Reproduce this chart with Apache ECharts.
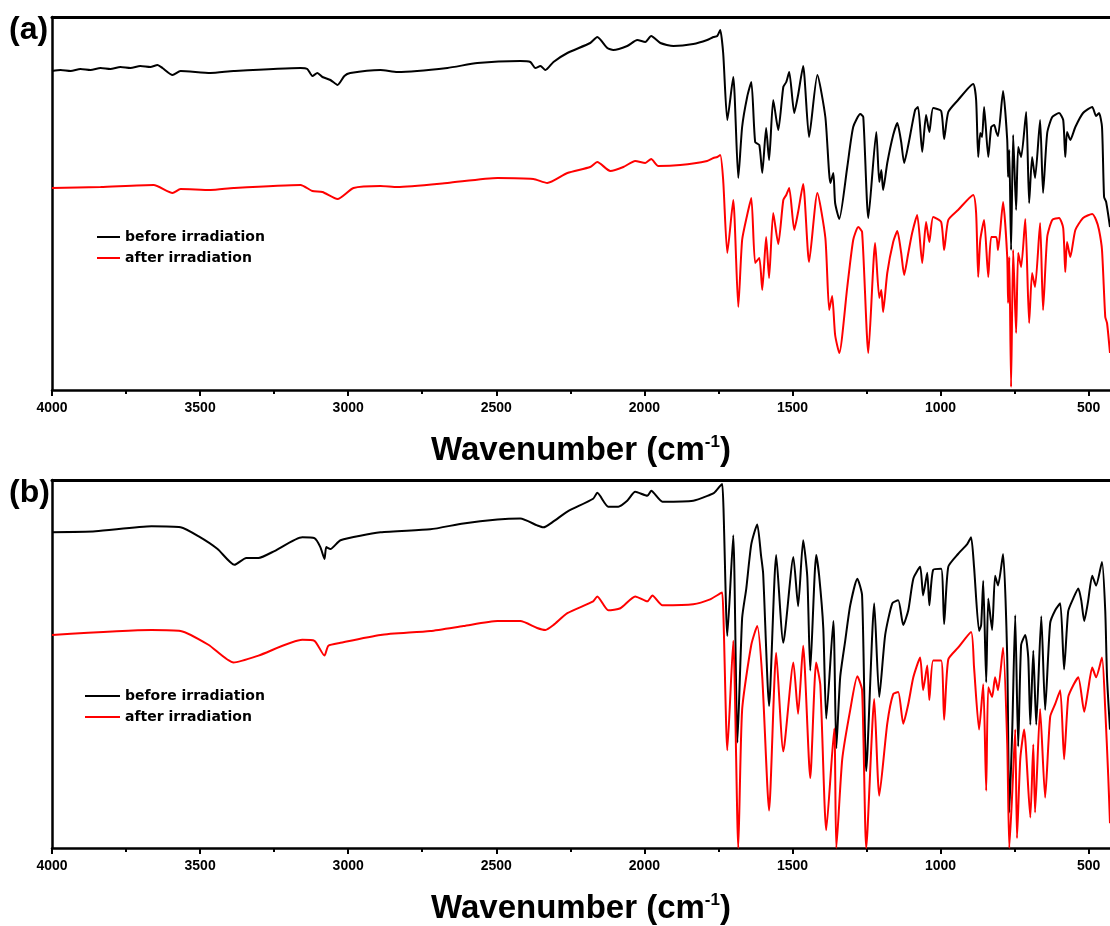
<!DOCTYPE html>
<html>
<head>
<meta charset="utf-8">
<script src="https://cdn.jsdelivr.net/npm/echarts@6/dist/echarts.min.js"></script>
<style>
html,body{margin:0;padding:0;background:#fff;overflow:hidden;}
#chart{width:1110px;height:926px;}
</style>
</head>
<body>
<div id="chart"></div>
<script>
// Wavenumber (cm-1), transmittance (arbitrary units, 0-373)
const tickLabels = [4000, 3500, 3000, 2500, 2000, 1500, 1000, 500];
const minorTicks = [3750, 3250, 2750, 2250, 1750, 1250, 750];
const seriesNames = ['before irradiation', 'after irradiation'];

const beforeA = [[4000,319],[3971,320],[3937,319],[3904,321],[3870,320],[3836,322],[3803,321],[3769,323],[3735,322],[3702,324],[3668,323],[3644,325],[3627,322],[3593,315],[3566,319],[3465,317],[3387,319],[3161,322],[3138,321],[3121,314],[3104,317],[3087,313],[3060,310],[3036,305],[3013,314],[2993,317],[2891,320],[2834,318],[2665,322],[2564,327],[2419,329],[2385,328],[2368,322],[2351,324],[2334,320],[2307,328],[2260,337],[2183,347],[2159,353],[2125,342],[2105,340],[2058,344],[2024,350],[1997,348],[1977,354],[1946,347],[1902,344],[1835,346],[1788,350],[1767,353],[1754,354],[1744,360],
[1734,337],[1720,270],[1700,313],[1683,212],[1670,263],[1653,293],[1639,308],[1626,248],[1612,245],[1602,217],[1589,262],[1579,230],[1565,290],[1548,260],[1531,303],[1521,308],[1511,318],[1494,277],[1481,295],[1464,324],[1444,253],[1416,315],[1389,273],[1372,207],[1362,217],[1356,187],[1342,171],[1315,223],[1295,263],[1271,276],[1261,273],[1244,172],[1217,258],[1207,208],[1200,220],[1194,200],[1180,227],[1160,255],[1146,267],[1133,248],[1123,227],[1109,245],[1086,280],[1076,283],[1062,238],[1049,275],[1038,258],[1025,282],[998,279],[988,251],[974,278],[941,290],[890,306],[880,290],[873,233],[866,257],[860,253],[853,283],[839,233],[829,263],[819,265],[812,258],[806,254],[789,299],[775,250],[772,213],[768,240],[762,140],[755,255],[745,180],[738,243],[728,233],[711,278],[701,187],[691,233],[681,212],[664,270],[654,197],[640,257],[623,273],[600,277],[586,270],[579,233],[573,258],[562,250],[545,263],[519,277],[488,283],[475,274],[465,277],[455,263],[448,193],[441,188],[428,163]];

const afterA = [[4000,202],[3836,203],[3657,205],[3593,197],[3566,201],[3465,200],[3387,202],[3161,205],[3121,199],[3087,198],[3036,191],[2982,202],[2891,204],[2834,203],[2665,207],[2496,212],[2375,211],[2328,207],[2260,217],[2183,223],[2159,228],[2115,219],[2071,223],[2031,229],[1997,227],[1977,231],[1953,224],[1879,225],[1788,229],[1767,232],[1754,233],[1744,235],
[1734,210],[1720,137],[1700,190],[1683,83],[1670,150],[1653,175],[1639,192],[1626,127],[1612,132],[1602,100],[1589,153],[1579,112],[1565,177],[1548,146],[1531,190],[1521,195],[1511,202],[1494,160],[1481,178],[1464,206],[1444,128],[1416,197],[1389,152],[1376,80],[1366,94],[1356,55],[1342,37],[1315,103],[1295,150],[1278,163],[1265,158],[1244,37],[1221,147],[1207,92],[1200,100],[1194,78],[1180,117],[1160,148],[1146,159],[1133,137],[1123,115],[1109,137],[1096,157],[1079,175],[1062,127],[1049,168],[1038,148],[1025,173],[998,168],[988,140],[974,170],[941,180],[890,195],[880,177],[873,113],[866,150],[853,170],[839,113],[829,153],[812,153],[806,140],[789,188],[775,133],[772,87],[768,133],[762,3],[755,140],[745,57],[738,137],[728,123],[714,171],[701,67],[691,117],[681,103],[664,167],[654,80],[640,153],[623,170],[600,172],[586,162],[579,118],[573,148],[562,133],[545,160],[519,172],[488,176],[475,170],[465,160],[455,140],[444,73],[438,67],[428,37]];

const beforeB = [[4000,320],[3853,321],[3664,326],[3566,325],[3506,316],[3441,303],[3384,287],[3344,294],[3303,294],[3249,301],[3155,315],[3114,314],[3094,305],[3080,293],[3074,305],[3060,303],[3026,312],[2891,320],[2723,323],[2611,329],[2496,333],[2419,334],[2362,327],[2341,325],[2307,331],[2260,341],[2173,354],[2159,360],[2122,346],[2088,346],[2058,352],[2031,361],[1990,357],[1977,362],[1939,351],[1835,352],[1778,358],[1764,360],[1744,367],[1737,369],
[1720,215],[1700,317],[1686,107],[1670,233],[1656,263],[1639,308],[1619,328],[1606,296],[1599,278],[1579,144],[1555,297],[1531,208],[1497,295],[1481,245],[1464,312],[1450,275],[1440,180],[1420,297],[1410,276],[1396,223],[1386,131],[1362,230],[1352,101],[1339,173],[1322,210],[1305,246],[1281,273],[1265,256],[1251,78],[1224,248],[1207,153],[1187,216],[1163,248],[1143,251],[1126,226],[1109,241],[1092,273],[1069,285],[1059,256],[1045,279],[1038,246],[1025,282],[998,283],[988,227],[974,285],[941,298],[910,308],[897,315],[887,285],[870,220],[863,226],[856,271],[846,168],[839,253],[826,221],[816,276],[806,266],[789,298],[775,193],[768,36],[758,120],[748,236],[738,103],[728,206],[714,216],[704,193],[697,125],[687,200],[677,125],[660,235],[647,140],[630,228],[613,241],[596,248],[583,181],[569,240],[552,253],[535,263],[525,251],[515,230],[502,250],[488,276],[475,266],[455,290],[444,240],[438,173],[428,120]];

const afterB = [[4000,216],[3664,221],[3566,220],[3472,206],[3387,188],[3303,195],[3155,211],[3114,210],[3080,195],[3067,205],[3026,208],[2891,216],[2723,220],[2611,225],[2496,230],[2419,230],[2362,223],[2334,221],[2307,226],[2260,238],[2173,250],[2159,255],[2122,241],[2081,243],[2031,255],[1990,250],[1973,256],[1939,246],[1835,247],[1778,252],[1744,258],[1737,259],
[1720,99],[1700,210],[1683,0],[1670,140],[1639,206],[1619,225],[1602,173],[1579,38],[1555,198],[1531,98],[1497,188],[1481,136],[1464,205],[1440,71],[1420,188],[1406,165],[1386,18],[1359,121],[1352,0],[1332,90],[1305,140],[1281,174],[1265,160],[1251,0],[1224,151],[1207,53],[1180,126],[1160,156],[1143,158],[1126,126],[1109,146],[1092,173],[1069,193],[1059,160],[1045,185],[1038,150],[1025,190],[998,190],[988,130],[974,191],[941,203],[897,219],[887,183],[870,120],[856,166],[846,58],[839,163],[826,153],[816,173],[806,160],[789,203],[775,106],[768,0],[758,56],[748,120],[742,10],[731,90],[718,120],[697,31],[687,105],[681,36],[664,141],[647,51],[630,133],[613,146],[596,160],[583,90],[569,153],[552,165],[535,173],[515,138],[502,160],[488,183],[475,173],[455,193],[444,140],[434,73],[428,25]];

const FONT = 'Liberation Sans, Arial, sans-serif';
const LEGEND_FONT = 'DejaVu Sans, Liberation Sans, sans-serif';
const chart = echarts.init(document.getElementById('chart'), null, {renderer:'canvas'});

const gridTops = [17, 480];
const grids = gridTops.map(t => ({left:52, right:0, top:t, height:373, containLabel:false}));

function xAxesFor(gi){
  return [
    { // main bottom axis
      type:'value', gridIndex:gi, position:'bottom', inverse:true, min:428, max:4000,
      axisLine:{show:true, onZero:false, lineStyle:{color:'#000', width:2.5}},
      axisTick:{show:true, inside:false, length:6, lineStyle:{color:'#000', width:2}, customValues:tickLabels},
      axisLabel:{show:true, customValues:tickLabels, formatter:v => String(v), color:'#000', fontFamily:FONT, fontWeight:'bold', fontSize:14, margin:11},
      splitLine:{show:false},
      name:'{a|Wavenumber (cm}{s|-1}{a|)}', nameLocation:'middle', nameGap:44,
      nameTextStyle:{rich:{
        a:{fontFamily:FONT, fontWeight:'bold', fontSize:33, color:'#000'},
        s:{fontFamily:FONT, fontWeight:'bold', fontSize:17, color:'#000', verticalAlign:'top', padding:[0,0,14,0]}
      }}
    },
    { // minor ticks
      type:'value', gridIndex:gi, position:'bottom', inverse:true, min:428, max:4000,
      axisLine:{show:false},
      axisTick:{show:true, inside:false, length:4, lineStyle:{color:'#000', width:2}, customValues:minorTicks},
      axisLabel:{show:false}, splitLine:{show:false}
    },
    { // top frame
      type:'value', gridIndex:gi, position:'top', inverse:true, min:428, max:4000,
      axisLine:{show:true, onZero:false, lineStyle:{color:'#000', width:3}},
      axisTick:{show:false}, axisLabel:{show:false}, splitLine:{show:false}
    }
  ];
}

const xAxes = xAxesFor(0).concat(xAxesFor(1));
const yAxes = [0,1].map(gi => ({
  type:'value', gridIndex:gi, min:0, max:373,
  axisLine:{show:true, onZero:false, lineStyle:{color:'#000', width:2.5}},
  axisTick:{show:false}, axisLabel:{show:false}, splitLine:{show:false}
}));

function lineSeries(name, data, gi, color){
  return {
    name:name, type:'line', data:data, xAxisIndex:gi*3, yAxisIndex:gi,
    symbol:'none', smooth:0.2, animation:false,
    lineStyle:{color:color, width:2}, itemStyle:{color:color}
  };
}

const legendText = {fontFamily:LEGEND_FONT, fontWeight:'bold', fontSize:14, color:'#000'};
const option = {
  backgroundColor:'#fff',
  animation:false,
  grid:grids,
  xAxis:xAxes,
  yAxis:yAxes,
  legend:[
    {left:97, top:230, padding:0, orient:'vertical', icon:'rect', itemWidth:23, itemHeight:2, itemGap:7, itemTextGap:6,
     data:seriesNames, textStyle:legendText},
    {left:85, top:689, padding:0, orient:'vertical', icon:'rect', itemWidth:35, itemHeight:2, itemGap:7, itemTextGap:6,
     data:seriesNames, textStyle:legendText}
  ],
  graphic:[
    {type:'text', left:9, top:14, style:{text:'(a)', fontFamily:FONT, fontWeight:'bold', fontSize:32, fill:'#000'}},
    {type:'text', left:9, top:477, style:{text:'(b)', fontFamily:FONT, fontWeight:'bold', fontSize:32, fill:'#000'}}
  ],
  series:[
    lineSeries(seriesNames[0], beforeA, 0, '#000000'),
    lineSeries(seriesNames[1], afterA, 0, '#ff0000'),
    lineSeries(seriesNames[0], beforeB, 1, '#000000'),
    lineSeries(seriesNames[1], afterB, 1, '#ff0000')
  ]
};
chart.setOption(option);
</script>
</body>
</html>
